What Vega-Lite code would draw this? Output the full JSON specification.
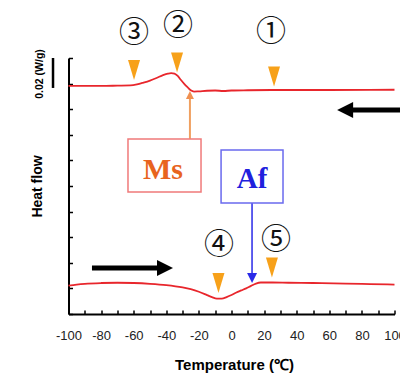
{
  "$schema": "https://vega.github.io/schema/vega-lite/v6.json",
  "width": 326,
  "height": 256,
  "autosize": {"type": "none"},
  "padding": {"left": 68.5, "top": 58, "right": 5.5, "bottom": 65},
  "background": "white",
  "config": {"view": {"stroke": null}, "axis": {"labelOverlap": false}},
  "datasets": {
    "curves": [
      {"t": -100, "hf": 8.91, "curve": "cooling"},
      {"t": -80, "hf": 8.91, "curve": "cooling"},
      {"t": -70, "hf": 8.92, "curve": "cooling"},
      {"t": -62, "hf": 8.93, "curve": "cooling"},
      {"t": -58, "hf": 8.97, "curve": "cooling"},
      {"t": -54, "hf": 9.04, "curve": "cooling"},
      {"t": -50, "hf": 9.12, "curve": "cooling"},
      {"t": -46, "hf": 9.22, "curve": "cooling"},
      {"t": -42, "hf": 9.33, "curve": "cooling"},
      {"t": -39, "hf": 9.39, "curve": "cooling"},
      {"t": -37, "hf": 9.41, "curve": "cooling"},
      {"t": -35, "hf": 9.39, "curve": "cooling"},
      {"t": -33, "hf": 9.3, "curve": "cooling"},
      {"t": -31, "hf": 9.14, "curve": "cooling"},
      {"t": -29, "hf": 8.99, "curve": "cooling"},
      {"t": -27, "hf": 8.86, "curve": "cooling"},
      {"t": -25, "hf": 8.74, "curve": "cooling"},
      {"t": -23, "hf": 8.69, "curve": "cooling"},
      {"t": -20, "hf": 8.7, "curve": "cooling"},
      {"t": -15, "hf": 8.72, "curve": "cooling"},
      {"t": -10, "hf": 8.73, "curve": "cooling"},
      {"t": -5, "hf": 8.71, "curve": "cooling"},
      {"t": 0, "hf": 8.73, "curve": "cooling"},
      {"t": 10, "hf": 8.74, "curve": "cooling"},
      {"t": 30, "hf": 8.75, "curve": "cooling"},
      {"t": 60, "hf": 8.75, "curve": "cooling"},
      {"t": 100, "hf": 8.76, "curve": "cooling"},
      {"t": -100, "hf": 1.11, "curve": "heating"},
      {"t": -95, "hf": 1.15, "curve": "heating"},
      {"t": -90, "hf": 1.18, "curve": "heating"},
      {"t": -80, "hf": 1.21, "curve": "heating"},
      {"t": -70, "hf": 1.22, "curve": "heating"},
      {"t": -60, "hf": 1.21, "curve": "heating"},
      {"t": -50, "hf": 1.18, "curve": "heating"},
      {"t": -40, "hf": 1.13, "curve": "heating"},
      {"t": -30, "hf": 1.04, "curve": "heating"},
      {"t": -25, "hf": 0.97, "curve": "heating"},
      {"t": -20, "hf": 0.87, "curve": "heating"},
      {"t": -15, "hf": 0.74, "curve": "heating"},
      {"t": -12, "hf": 0.66, "curve": "heating"},
      {"t": -9, "hf": 0.6, "curve": "heating"},
      {"t": -6, "hf": 0.6, "curve": "heating"},
      {"t": -3, "hf": 0.66, "curve": "heating"},
      {"t": 0, "hf": 0.74, "curve": "heating"},
      {"t": 3, "hf": 0.84, "curve": "heating"},
      {"t": 6, "hf": 0.92, "curve": "heating"},
      {"t": 9, "hf": 1.0, "curve": "heating"},
      {"t": 12, "hf": 1.1, "curve": "heating"},
      {"t": 15, "hf": 1.19, "curve": "heating"},
      {"t": 18, "hf": 1.23, "curve": "heating"},
      {"t": 25, "hf": 1.23, "curve": "heating"},
      {"t": 35, "hf": 1.22, "curve": "heating"},
      {"t": 50, "hf": 1.21, "curve": "heating"},
      {"t": 70, "hf": 1.19, "curve": "heating"},
      {"t": 85, "hf": 1.17, "curve": "heating"},
      {"t": 100, "hf": 1.15, "curve": "heating"}
    ],
    "markers": [
      {"t": -59.8, "v": 9.53},
      {"t": -33.4, "v": 9.82},
      {"t": 26.1, "v": 9.28},
      {"t": -8.0, "v": 1.21},
      {"t": 24.8, "v": 1.82}
    ],
    "nums": [
      {"t": -59.8, "v": 10.97, "label": "③"},
      {"t": -32.8, "v": 11.25, "label": "②"},
      {"t": 24.2, "v": 11.01, "label": "①"},
      {"t": -7.7, "v": 2.69, "label": "④"},
      {"t": 27.3, "v": 2.89, "label": "⑤"}
    ],
    "msBox": [{"x1": -63.5, "x2": -18.7, "y1": 4.77, "y2": 6.84}],
    "afBox": [{"x1": -6.4, "x2": 31.6, "y1": 4.34, "y2": 6.41}],
    "msLabel": [{"t": -42.0, "v": 5.63, "label": "Ms"}],
    "afLabel": [{"t": 12.6, "v": 5.27, "label": "Af"}],
    "msArrow": [{"t": -25.5, "v1": 6.84, "v2": 8.5}],
    "msHead": [{"t": -25.5, "v": 8.55}],
    "afArrow": [{"t": 12.6, "v1": 4.34, "v2": 1.5}],
    "afHead": [{"t": 12.6, "v": 1.41}],
    "coolArrow": [{"t1": 71, "t2": 104, "v": 7.97}],
    "coolHead": [{"t": 69.7, "v": 7.97}],
    "heatArrow": [{"t1": -85.6, "t2": -42, "v": 1.8}],
    "heatHead": [{"t": -40.8, "v": 1.8}],
    "scaleBar": [{"t": -109.5, "v1": 8.83, "v2": 10.0}],
    "scaleLabel": [{"t": -117.5, "v": 9.375, "label": "0.02 (W/g)"}]
  },
  "layer": [
    {
      "data": {"name": "curves"},
      "mark": {"type": "line", "color": "#e8262c", "strokeWidth": 1.8, "interpolate": "monotone"},
      "encoding": {
        "x": {
          "field": "t", "type": "quantitative",
          "scale": {"domain": [-100, 100], "nice": false, "zero": false},
          "axis": {
            "values": [-100, -90, -80, -70, -60, -50, -40, -30, -20, -10, 0, 10, 20, 30, 40, 50, 60, 70, 80, 90, 100],
            "tickCount": 100,
            "labelExpr": "datum.value % 20 == 0 ? (datum.value < 0 ? '-' + abs(datum.value) : '' + datum.value) : ''",
            "grid": false,
            "domainColor": "#000", "domainWidth": 2,
            "tickColor": "#000", "tickWidth": 1.5, "tickSize": -4,
            "labelFont": "Liberation Sans", "labelFontSize": 13, "labelColor": "#222",
            "labelBaseline": "middle", "labelPadding": 25, "labelFlush": false, "labelOverlap": false,
            "title": "Temperature (℃)",
            "titleFont": "Liberation Sans", "titleFontSize": 15, "titleFontWeight": "bold", "titleColor": "#000",
            "titleX": 165.5, "titleY": 50, "titleBaseline": "middle", "titleAlign": "center"
          }
        },
        "y": {
          "field": "hf", "type": "quantitative",
          "scale": {"domain": [0, 10], "nice": false, "zero": false},
          "axis": {
            "values": [0, 1, 2, 3, 4, 5, 6, 7, 8, 9, 10],
            "tickCount": 100,
            "labels": false, "grid": false,
            "domainColor": "#000", "domainWidth": 2,
            "tickColor": "#000", "tickWidth": 1.5, "tickSize": -4,
            "title": "Heat flow",
            "titleFont": "Liberation Sans", "titleFontSize": 14, "titleFontWeight": "bold", "titleColor": "#000",
            "titleAngle": 270, "titleX": -31, "titleY": 128, "titleBaseline": "middle", "titleAlign": "center"
          }
        },
        "detail": {"field": "curve"}
      }
    },
    {
      "data": {"name": "markers"},
      "mark": {"type": "point", "shape": "M-0.6,-1L0.6,-1L0,1Z", "size": 400, "filled": true, "color": "#f7a11a", "opacity": 1},
      "encoding": {"x": {"field": "t", "type": "quantitative"}, "y": {"field": "v", "type": "quantitative"}}
    },
    {
      "data": {"name": "nums"},
      "mark": {"type": "text", "font": "Noto Sans CJK JP", "fontSize": 30, "color": "#111", "align": "center", "baseline": "middle"},
      "encoding": {"x": {"field": "t", "type": "quantitative"}, "y": {"field": "v", "type": "quantitative"}, "text": {"field": "label"}}
    },
    {
      "data": {"name": "msArrow"},
      "mark": {"type": "rule", "color": "#f0a060", "strokeWidth": 2},
      "encoding": {"x": {"field": "t", "type": "quantitative"}, "y": {"field": "v1", "type": "quantitative"}, "y2": {"field": "v2"}}
    },
    {
      "data": {"name": "msHead"},
      "mark": {"type": "point", "shape": "M0,-1L1,1L-1,1Z", "size": 64, "filled": true, "color": "#f09050", "opacity": 1},
      "encoding": {"x": {"field": "t", "type": "quantitative"}, "y": {"field": "v", "type": "quantitative"}}
    },
    {
      "data": {"name": "afArrow"},
      "mark": {"type": "rule", "color": "#2a2ae8", "strokeWidth": 1.5},
      "encoding": {"x": {"field": "t", "type": "quantitative"}, "y": {"field": "v1", "type": "quantitative"}, "y2": {"field": "v2"}}
    },
    {
      "data": {"name": "afHead"},
      "mark": {"type": "point", "shape": "M-1,-1L1,-1L0,1Z", "size": 100, "filled": true, "color": "#2a2ae8", "opacity": 1},
      "encoding": {"x": {"field": "t", "type": "quantitative"}, "y": {"field": "v", "type": "quantitative"}}
    },
    {
      "data": {"name": "msBox"},
      "mark": {"type": "rect", "fill": "white", "stroke": "#f07a7a", "strokeWidth": 1.5},
      "encoding": {"x": {"field": "x1", "type": "quantitative"}, "x2": {"field": "x2"}, "y": {"field": "y1", "type": "quantitative"}, "y2": {"field": "y2"}}
    },
    {
      "data": {"name": "afBox"},
      "mark": {"type": "rect", "fill": "white", "stroke": "#6a6aee", "strokeWidth": 1.5},
      "encoding": {"x": {"field": "x1", "type": "quantitative"}, "x2": {"field": "x2"}, "y": {"field": "y1", "type": "quantitative"}, "y2": {"field": "y2"}}
    },
    {
      "data": {"name": "msLabel"},
      "mark": {"type": "text", "font": "Liberation Serif", "fontWeight": "bold", "fontSize": 30, "color": "#e8641e", "align": "center", "baseline": "middle"},
      "encoding": {"x": {"field": "t", "type": "quantitative"}, "y": {"field": "v", "type": "quantitative"}, "text": {"field": "label"}}
    },
    {
      "data": {"name": "afLabel"},
      "mark": {"type": "text", "font": "Liberation Serif", "fontWeight": "bold", "fontSize": 29, "color": "#2020dd", "align": "center", "baseline": "middle"},
      "encoding": {"x": {"field": "t", "type": "quantitative"}, "y": {"field": "v", "type": "quantitative"}, "text": {"field": "label"}}
    },
    {
      "data": {"name": "coolArrow"},
      "mark": {"type": "rule", "color": "#000", "strokeWidth": 5},
      "encoding": {"x": {"field": "t1", "type": "quantitative"}, "x2": {"field": "t2"}, "y": {"field": "v", "type": "quantitative"}}
    },
    {
      "data": {"name": "coolHead"},
      "mark": {"type": "point", "shape": "M1,-1L-1,0L1,1Z", "size": 256, "filled": true, "color": "#000", "opacity": 1},
      "encoding": {"x": {"field": "t", "type": "quantitative"}, "y": {"field": "v", "type": "quantitative"}}
    },
    {
      "data": {"name": "heatArrow"},
      "mark": {"type": "rule", "color": "#000", "strokeWidth": 5},
      "encoding": {"x": {"field": "t1", "type": "quantitative"}, "x2": {"field": "t2"}, "y": {"field": "v", "type": "quantitative"}}
    },
    {
      "data": {"name": "heatHead"},
      "mark": {"type": "point", "shape": "M-1,-1L1,0L-1,1Z", "size": 256, "filled": true, "color": "#000", "opacity": 1},
      "encoding": {"x": {"field": "t", "type": "quantitative"}, "y": {"field": "v", "type": "quantitative"}}
    },
    {
      "data": {"name": "scaleBar"},
      "mark": {"type": "rule", "color": "#000", "strokeWidth": 2.5},
      "encoding": {"x": {"field": "t", "type": "quantitative"}, "y": {"field": "v1", "type": "quantitative"}, "y2": {"field": "v2"}}
    },
    {
      "data": {"name": "scaleLabel"},
      "mark": {"type": "text", "font": "Liberation Sans", "fontWeight": "bold", "fontSize": 10.5, "color": "#000", "align": "center", "baseline": "middle", "angle": 270},
      "encoding": {"x": {"field": "t", "type": "quantitative"}, "y": {"field": "v", "type": "quantitative"}, "text": {"field": "label"}}
    }
  ]
}
